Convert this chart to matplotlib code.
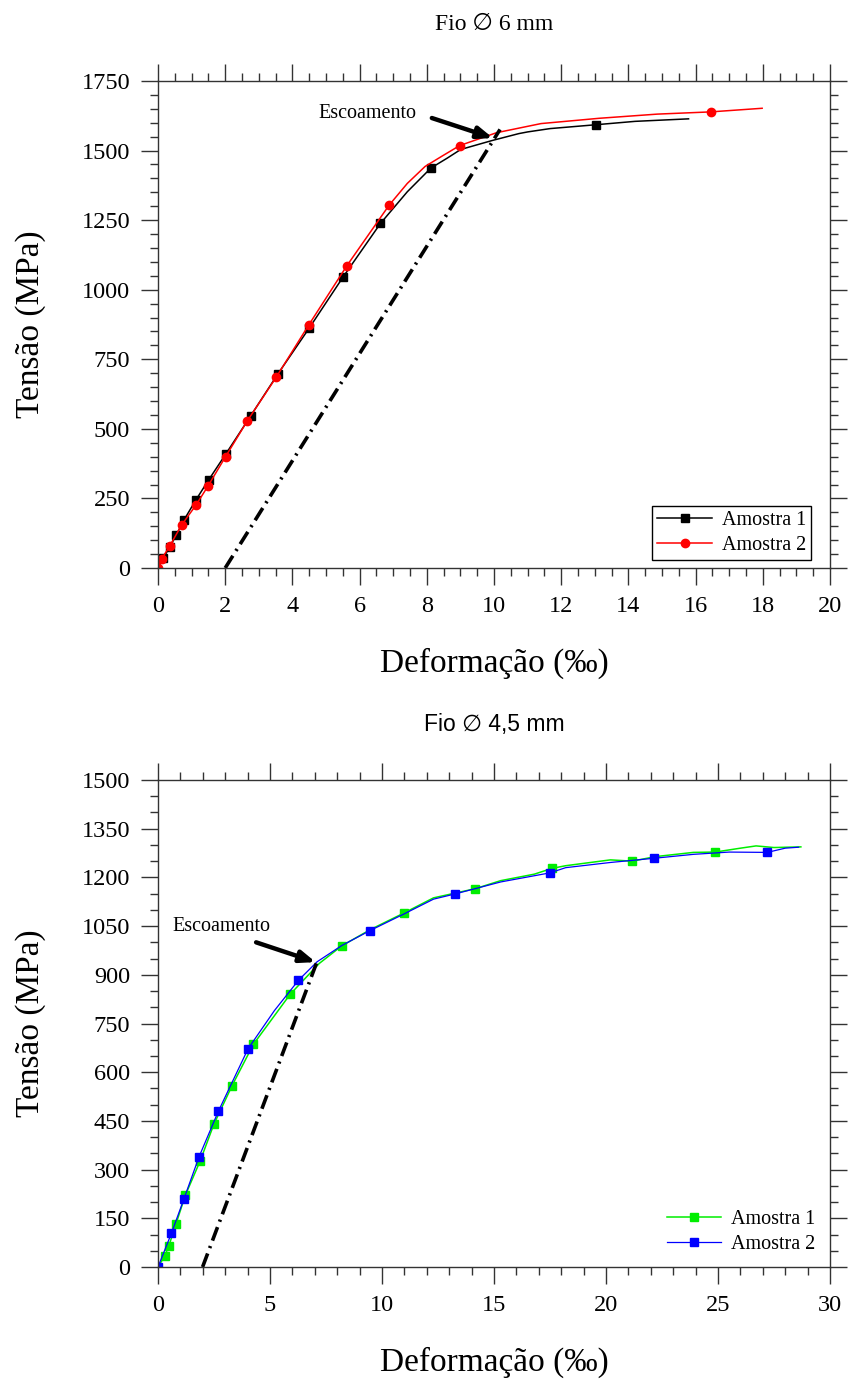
import matplotlib
matplotlib.use("Agg")
import matplotlib.pyplot as plt
from matplotlib.lines import Line2D
from matplotlib.ticker import MultipleLocator

plt.rcParams["font.family"] = ["Liberation Serif", "DejaVu Sans"]

# --- Fio 6 mm ---
a1_x = [0, 0.15, 0.35, 0.55, 0.77, 1.13, 1.51, 2.02, 2.76, 3.56, 4.50, 5.51, 6.62,
        7.42, 8.12, 8.61, 9.01, 9.94, 10.74, 11.0, 11.67, 13.05, 14.2, 15.79]
a1_y = [0, 35, 75, 120, 172, 245, 317, 410, 547, 696, 862, 1046, 1238,
        1352, 1437, 1473, 1504, 1536, 1561, 1567, 1579, 1593, 1605, 1614]
a1_mx = [0.15, 0.35, 0.55, 0.77, 1.13, 1.51, 2.02, 2.76, 3.56, 4.50, 5.51, 6.62, 8.12, 13.05]
a1_my = [35, 75, 120, 172, 245, 317, 410, 547, 696, 862, 1046, 1238, 1437, 1593]

a2_x = [0, 0.11, 0.35, 0.70, 1.13, 1.48, 2.01, 2.66, 3.52, 4.49, 5.62, 6.88,
        7.42, 7.95, 8.48, 8.98, 10.07, 11.4, 13.13, 14.86, 16.45, 17.98]
a2_y = [0, 33, 79, 154, 226, 293, 400, 529, 686, 874, 1086, 1304,
        1382, 1443, 1482, 1518, 1564, 1597, 1616, 1631, 1639, 1652]
a2_mx = [0, 0.11, 0.35, 0.70, 1.13, 1.48, 2.01, 2.66, 3.52, 4.49, 5.62, 6.88, 8.98, 16.45]
a2_my = [0, 33, 79, 154, 226, 293, 400, 529, 686, 874, 1086, 1304, 1518, 1639]

off6_x = [2.0, 10.18]
off6_y = [0, 1576]

# --- Fio 4,5 mm ---
g_x = [0, 0.3, 0.48, 0.8, 1.22, 1.89, 2.49, 3.31, 4.26, 5.9, 7.2, 8.2, 9.5, 11.0, 12.3,
       14.15, 15.3, 16.8, 17.6, 18.2, 20.2, 21.17, 22.2, 23.9, 24.87, 26.0, 26.7, 27.5, 28.7]
g_y = [0, 34, 64, 132, 221, 328, 439, 559, 686, 840, 935, 989, 1040, 1091, 1137,
       1165, 1190, 1210, 1228, 1236, 1254, 1250, 1264, 1277, 1278, 1290, 1297, 1292, 1294]
g_mx = [0.3, 0.48, 0.8, 1.22, 1.89, 2.49, 3.31, 4.26, 5.9, 8.2, 11.0, 14.15, 17.6, 21.17, 24.87]
g_my = [34, 64, 132, 221, 328, 439, 559, 686, 840, 989, 1091, 1165, 1228, 1250, 1278]

b_x = [0, 0.6, 1.16, 1.83, 2.69, 4.02, 5.2, 6.27, 7.1, 8.2, 9.46, 11.0, 12.3, 13.26,
       15.3, 17.5, 18.2, 20.2, 22.16, 23.9, 25.5, 27.2, 28.0, 28.6]
b_y = [0, 104, 210, 339, 479, 672, 790, 883, 940, 990, 1036, 1088, 1133, 1149,
       1186, 1214, 1230, 1246, 1259, 1271, 1278, 1277, 1290, 1293]
b_mx = [0, 0.6, 1.16, 1.83, 2.69, 4.02, 6.27, 9.46, 13.26, 17.5, 22.16, 27.2]
b_my = [0, 104, 210, 339, 479, 672, 883, 1036, 1149, 1214, 1259, 1277]

off45_x = [1.99, 7.13]
off45_y = [0, 946]

W, H = 849, 1385
fig = plt.figure(figsize=(W / 100, H / 100), dpi=100)


def box(left, top, right, bottom):
    return [left / W, 1 - bottom / H, (right - left) / W, (bottom - top) / H]


ax1 = fig.add_axes(box(158, 81, 830, 568))
ax2 = fig.add_axes(box(158, 780, 830, 1267))

DASHDOT = (0, (4, 1.6, 0.6, 1.6))

# top chart
ax1.plot(a1_x, a1_y, color="black", lw=1.1)
ax1.plot(a1_mx, a1_my, ls="none", marker="s", ms=5.5, color="black")
ax1.plot(a2_x, a2_y, color="red", lw=1.1)
ax1.plot(a2_mx, a2_my, ls="none", marker="o", ms=6, color="red")
ax1.plot(off6_x, off6_y, color="black", lw=2.6, ls=DASHDOT)
ax1.annotate("", xy=(9.97, 1545), xytext=(8.15, 1617),
             arrowprops=dict(arrowstyle="-|>,head_length=0.9,head_width=0.35",
                             lw=3.2, color="black", shrinkA=0, shrinkB=0))
ax1.text(6.23, 1635, "Escoamento", ha="center", va="center", fontsize=14.5)
ax1.set_xlim(0, 20)
ax1.set_ylim(0, 1750)
ax1.xaxis.set_major_locator(MultipleLocator(2))
ax1.xaxis.set_minor_locator(MultipleLocator(0.5))
ax1.yaxis.set_major_locator(MultipleLocator(250))
ax1.yaxis.set_minor_locator(MultipleLocator(50))
h1 = [Line2D([], [], color="black", lw=1.1, marker="s", ms=5.5),
      Line2D([], [], color="red", lw=1.1, marker="o", ms=6)]
leg1 = ax1.legend(h1, ["Amostra 1", "Amostra 2"], loc="lower right",
                  bbox_to_anchor=(0.972, 0.016), borderaxespad=0, fontsize=14.5,
                  numpoints=1, handlelength=2.7, handletextpad=0.5,
                  fancybox=False, framealpha=1, edgecolor="black",
                  borderpad=0.25, labelspacing=0.3)
leg1.get_frame().set_linewidth(1.0)

# bottom chart
ax2.plot(g_x, g_y, color="#00ee00", lw=1.1)
ax2.plot(g_mx, g_my, ls="none", marker="s", ms=5.5, color="#00ee00")
ax2.plot(b_x, b_y, color="#0000ff", lw=0.9)
ax2.plot(b_mx, b_my, ls="none", marker="s", ms=5.5, color="#0000ff")
ax2.plot(off45_x, off45_y, color="black", lw=2.6, ls=DASHDOT)
ax2.annotate("", xy=(7.04, 939), xytext=(4.38, 1000),
             arrowprops=dict(arrowstyle="-|>,head_length=0.9,head_width=0.35",
                             lw=3.2, color="black", shrinkA=0, shrinkB=0))
ax2.text(2.84, 1048, "Escoamento", ha="center", va="center", fontsize=14.5)
ax2.set_xlim(0, 30)
ax2.set_ylim(0, 1500)
ax2.xaxis.set_major_locator(MultipleLocator(5))
ax2.xaxis.set_minor_locator(MultipleLocator(1))
ax2.yaxis.set_major_locator(MultipleLocator(150))
ax2.yaxis.set_minor_locator(MultipleLocator(50))
h2 = [Line2D([], [], color="#00ee00", lw=1.1, marker="s", ms=5.5),
      Line2D([], [], color="#0000ff", lw=0.9, marker="s", ms=5.5)]
ax2.legend(h2, ["Amostra 1", "Amostra 2"], loc="lower right",
           bbox_to_anchor=(0.99, 0.01), borderaxespad=0, fontsize=14.5,
           numpoints=1, handlelength=2.7, handletextpad=0.5,
           frameon=False, labelspacing=0.3)

for ax in (ax1, ax2):
    for s in ax.spines.values():
        s.set_color("#333333")
        s.set_linewidth(1.0)
    ax.tick_params(which="both", direction="out", top=True, right=True,
                   colors="#333333", labelcolor="black", labelsize=17.5)
    ax.tick_params(which="major", length=12, width=1.0, pad=8)
    ax.tick_params(which="minor", length=5.5, width=1.0)
    ax.set_xlabel("Deformação (‰)", fontsize=24)
    ax.set_ylabel("Tensão (MPa)", fontsize=24)
    ax.xaxis.set_label_coords(0.5, -0.195)
    ax.xaxis.label.set_va("center")
    ax.yaxis.set_label_coords(-0.19, 0.5)
    ax.yaxis.label.set_va("center")

fig.text(494 / W, 1 - 25 / H, "Fio ∅ 6 mm", ha="center", va="center", fontsize=17,
         family=["Liberation Serif", "DejaVu Sans"])
fig.text(494 / W, 1 - 725 / H, "Fio ∅ 4,5 mm", ha="center", va="center",
         fontsize=16.5, family=["Liberation Sans", "DejaVu Sans"])

fig.savefig("out.png", dpi=100)
